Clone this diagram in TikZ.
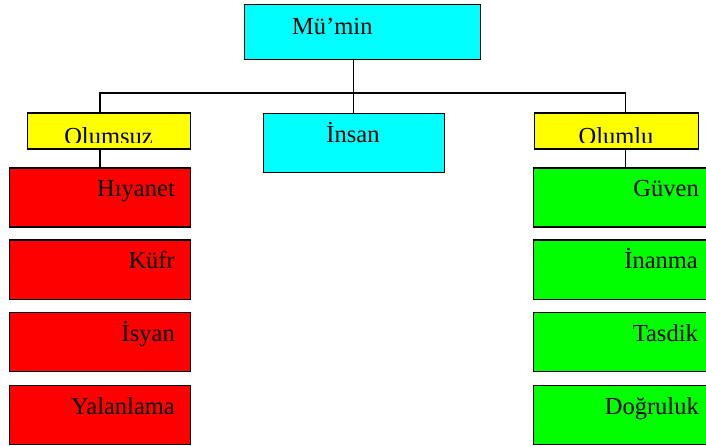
\documentclass[tikz,border=0pt]{standalone}
\usepackage{fontspec}
\setmainfont{Liberation Serif}
\begin{document}
\begin{tikzpicture}[x=1pt,y=-1pt,
  box/.style={draw=black, line width=1.3pt, rectangle, inner sep=0pt, anchor=north west},
  lbl/.style={font=\fontsize{24.5}{28}\selectfont, inner sep=0pt},
  conn/.style={line width=1.4pt, draw=black}]
\definecolor{cy}{RGB}{0,255,255}
\definecolor{ye}{RGB}{255,255,0}
\definecolor{re}{RGB}{255,0,0}
\definecolor{gr}{RGB}{0,255,0}
\useasboundingbox (0,0) rectangle (706,446);
\clip (0,0) rectangle (706,446);

% top
\node[box, fill=cy, minimum width=236pt, minimum height=55pt] (mumin) at (244,4) {};
\node[lbl, anchor=base west] (tmumin) at (292,35) {Mü’min};

% middle row
\node[box, fill=ye, minimum width=163pt, minimum height=36pt] (olumsuz) at (27,112.5) {};
\node[box, fill=cy, minimum width=181pt, minimum height=59pt] (insan) at (262.5,113) {};
\node[box, fill=ye, minimum width=164pt, minimum height=36pt] (olumlu) at (534,112.5) {};
\node[lbl, anchor=base] (tinsan) at (353,143) {İnsan};

\begin{scope}
  \clip (28,113) rectangle (189,143);
  \node[lbl, anchor=base] (tolumsuz) at (108.5,145) {Olumsuz};
\end{scope}
\begin{scope}
  \clip (535,113) rectangle (697,143);
  \node[lbl, anchor=base] (tolumlu) at (616,145) {Olumlu};
\end{scope}

% left column
\node[box, fill=re, minimum width=181pt, minimum height=59pt] (r1) at (9,167.5) {};
\node[box, fill=re, minimum width=181pt, minimum height=59pt] (r2) at (9,239.5) {};
\node[box, fill=re, minimum width=181pt, minimum height=59pt] (r3) at (9,312) {};
\node[box, fill=re, minimum width=181pt, minimum height=59pt] (r4) at (9,384.5) {};
\node[lbl, anchor=base east] (tr1) at (175,197) {Hıyanet};
\node[lbl, anchor=base east] (tr2) at (175,269) {Küfr};
\node[lbl, anchor=base east] (tr3) at (175,341.5) {İsyan};
\node[lbl, anchor=base east] (tr4) at (175,414) {Yalanlama};

% right column
\node[box, fill=gr, minimum width=184pt, minimum height=59pt] (g1) at (533,167.5) {};
\node[box, fill=gr, minimum width=184pt, minimum height=59pt] (g2) at (533,239.5) {};
\node[box, fill=gr, minimum width=184pt, minimum height=59pt] (g3) at (533,312) {};
\node[box, fill=gr, minimum width=184pt, minimum height=59pt] (g4) at (533,384.5) {};
\node[lbl, anchor=base east] (tg1) at (699,197) {Güven};
\node[lbl, anchor=base east] (tg2) at (698,269) {İnanma};
\node[lbl, anchor=base east] (tg3) at (698,341.5) {Tasdik};
\node[lbl, anchor=base east] (tg4) at (699,414) {Doğruluk};

% connectors
\coordinate (bus) at (353,93);
\draw[conn] (insan.north |- mumin.south) -- (insan.north);
\draw[conn] (r1.north |- olumsuz.north) |- (bus) -| (g1.north |- olumlu.north);
\draw[conn] (r1.north |- olumsuz.south) -- (r1.north);
\draw[conn] (g1.north |- olumlu.south) -- (g1.north);
\end{tikzpicture}
\end{document}
